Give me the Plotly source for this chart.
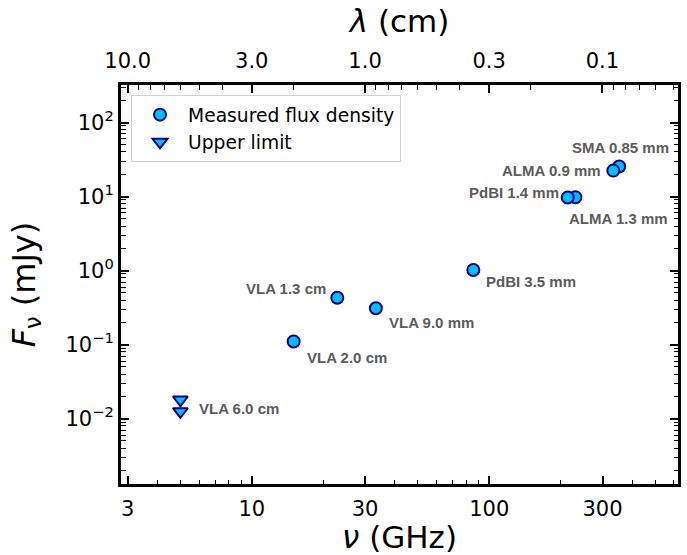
import numpy as np
import plotly.graph_objects as go

# Continuum detections
labels = ["VLA 2.0 cm", "VLA 1.3 cm", "VLA 9.0 mm", "PdBI 3.5 mm",
          "ALMA 1.3 mm", "PdBI 1.4 mm", "SMA 0.85 mm", "ALMA 0.9 mm"]
freq_ghz = [15.0, 22.9, 33.3, 85.7, 230.6, 214.1, 352.7, 333.1]
flux_mjy = [0.11, 0.43, 0.31, 1.02, 9.8, 9.7, 25.4, 22.4]

# Non-detections (upper limits)
limit_label = "VLA 6.0 cm"
limit_freq_ghz = [5.0, 5.0]
limit_flux_mjy = [0.018, 0.0125]

# Axis ticks
freq_ticks = [3, 10, 30, 100, 300]
wave_ticks_cm = [10.0, 3.0, 1.0, 0.3, 0.1]
flux_ticks = [1e-2, 1e-1, 1e0, 1e1, 1e2]
flux_ticktext = ["10<sup>\u22122</sup>", "10<sup>\u22121</sup>", "10<sup>0</sup>",
                 "10<sup>1</sup>", "10<sup>2</sup>"]

C_CM_GHZ = 29.9792458  # c in cm * GHz
x_lo, x_hi = 2.81, 624.0
y_lo, y_hi = 1.31e-3, 321.0

# Label placement: anchor, x/y shift in px
label_pos = {
    "VLA 2.0 cm": ("left", 11, -16),
    "VLA 1.3 cm": ("right", -9, 9),
    "VLA 9.0 mm": ("left", 11, -14),
    "PdBI 3.5 mm": ("left", 11, -12),
    "ALMA 1.3 mm": ("left", -8, -21),
    "PdBI 1.4 mm": ("right", -7, 5),
    "SMA 0.85 mm": ("center", 1, 19),
    "ALMA 0.9 mm": ("right", -10, 0),
}
limit_pos = ("left", 17, 3)

FONT = "DejaVu Sans"
LABEL_FONT = dict(family="Liberation Sans, Arial, sans-serif", size=15,
                  color="#5c5c5c", weight="bold")


def log_minor(lo, hi, skip=()):
    vals = []
    for e in range(int(np.floor(np.log10(lo))) - 1, int(np.ceil(np.log10(hi))) + 1):
        for k in range(1, 10):
            v = k * 10.0 ** e
            if lo <= v <= hi and not any(abs(v - s) / s < 1e-6 for s in skip):
                vals.append(v)
    return vals


fig = go.Figure()

fig.add_trace(go.Scatter(
    x=freq_ghz, y=flux_mjy, mode="markers", name="Measured flux density",
    marker=dict(symbol="circle", size=12, color="#00bfff",
                line=dict(color="#00008b", width=2)),
))
fig.add_trace(go.Scatter(
    x=limit_freq_ghz, y=limit_flux_mjy, mode="markers", name="Upper limit",
    marker=dict(symbol="triangle-down", size=13, color="#00bfff",
                line=dict(color="#00008b", width=2)),
))
# wavelength axis carrier
fig.add_trace(go.Scatter(
    x=freq_ghz, y=flux_mjy, xaxis="x2", mode="markers", showlegend=False,
    hoverinfo="skip", marker=dict(opacity=0),
))

for name, f, s in zip(labels, freq_ghz, flux_mjy):
    anchor, dx, dy = label_pos[name]
    fig.add_annotation(x=np.log10(f), y=np.log10(s), xref="x", yref="y",
                       text=name, showarrow=False, xanchor=anchor, yanchor="middle",
                       xshift=dx, yshift=dy, font=LABEL_FONT)
anchor, dx, dy = limit_pos
fig.add_annotation(x=np.log10(limit_freq_ghz[-1]), y=np.log10(limit_flux_mjy[-1]),
                   xref="x", yref="y", text=limit_label, showarrow=False,
                   xanchor=anchor, yanchor="middle", xshift=dx, yshift=dy, font=LABEL_FONT)

tick_font = dict(family=FONT, size=21, color="black")
title_font = dict(family=FONT, size=31, color="black")

# wavelength ticks expressed on the frequency scale
wave_major_freq = [C_CM_GHZ / w for w in wave_ticks_cm]
wave_minor_cm = log_minor(C_CM_GHZ / x_hi, C_CM_GHZ / x_lo, skip=wave_ticks_cm)
wave_minor_freq = [C_CM_GHZ / w for w in wave_minor_cm]

fig.update_layout(
    width=687, height=555,
    margin=dict(l=121, r=9, t=85, b=71, autoexpand=False),
    paper_bgcolor="white", plot_bgcolor="white",
    showlegend=True,
    legend=dict(x=0.018, y=0.975, xanchor="left", yanchor="top",
                bgcolor="white", bordercolor="#d0d0d0", borderwidth=1,
                font=dict(family=FONT, size=18.7, color="black"),
                itemwidth=46, tracegroupgap=2),
    xaxis=dict(
        type="log", range=[np.log10(x_lo), np.log10(x_hi)], automargin=False,
        tickmode="array", tickvals=freq_ticks, ticktext=[str(v) for v in freq_ticks],
        ticks="inside", ticklen=8, tickwidth=1.5, tickcolor="black",
        minor=dict(tickmode="array", tickvals=log_minor(x_lo, x_hi, skip=freq_ticks),
                   ticks="inside", ticklen=4.5, tickwidth=1.2, tickcolor="black"),
        showline=True, linewidth=3, linecolor="black", mirror=True,
        showgrid=False, zeroline=False, tickfont=tick_font, ticklabelstandoff=4,
        title=dict(text="<i>\u03bd</i> (GHz)", font=title_font, standoff=14),
    ),
    xaxis2=dict(
        type="log", range=[np.log10(x_lo), np.log10(x_hi)], automargin=False,
        overlaying="x", side="top",
        tickmode="array", tickvals=wave_major_freq,
        ticktext=[f"{w:.1f}" for w in wave_ticks_cm],
        ticks="inside", ticklen=8, tickwidth=1.5, tickcolor="black",
        minor=dict(tickmode="array", tickvals=wave_minor_freq,
                   ticks="inside", ticklen=4.5, tickwidth=1.2, tickcolor="black"),
        showline=True, linewidth=3, linecolor="black",
        showgrid=False, zeroline=False, tickfont=tick_font, ticklabelstandoff=6,
        title=dict(text="<i>\u03bb</i> (cm)", font=title_font, standoff=7),
    ),
    yaxis=dict(
        type="log", range=[np.log10(y_lo), np.log10(y_hi)], automargin=False,
        tickmode="array", tickvals=flux_ticks, ticktext=flux_ticktext,
        ticks="inside", ticklen=8, tickwidth=1.5, tickcolor="black",
        minor=dict(tickmode="array", tickvals=log_minor(y_lo, y_hi, skip=flux_ticks),
                   ticks="inside", ticklen=4.5, tickwidth=1.2, tickcolor="black"),
        showline=True, linewidth=3, linecolor="black", mirror="ticks",
        showgrid=False, zeroline=False, tickfont=tick_font,
        title=dict(text="<i>F</i><sub>\u03bd</sub> (mJy)", font=dict(family=FONT, size=32, color="black"),
                   standoff=21),
    ),
)

fig.write_html("out.html")
